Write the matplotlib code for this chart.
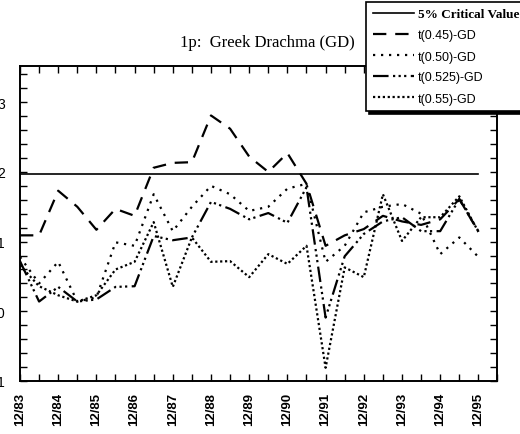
import matplotlib
matplotlib.use("Agg")
import matplotlib.pyplot as plt
from matplotlib.ticker import MultipleLocator
import numpy as np

# semiannual observations, 12/83 .. 12/95
year_labels = ['12/83', '12/84', '12/85', '12/86', '12/87', '12/88', '12/89',
               '12/90', '12/91', '12/92', '12/93', '12/94', '12/95']

critical = 1.97

t045 = [1.09, 1.09, 1.73, 1.50, 1.17, 1.47, 1.37, 2.06, 2.13, 2.14, 2.81, 2.62, 2.22,
        2.00, 2.27, 1.83, 0.94, 1.09, 1.18, 1.37, 1.29, 1.24, 1.32, 1.61, 1.14]
t050 = [0.78, 0.40, 0.71, 0.14, 0.20, 0.99, 0.94, 1.68, 1.15, 1.50, 1.80, 1.68, 1.44,
        1.50, 1.76, 1.83, 0.71, 0.94, 1.42, 1.50, 1.54, 1.40, 0.82, 1.06, 0.78]
t0525 = [0.72, 0.14, 0.35, 0.14, 0.17, 0.35, 0.36, 1.08, 1.02, 1.06, 1.57, 1.47, 1.32,
         1.41, 1.27, 1.78, -0.09, 0.79, 1.11, 1.29, 1.35, 1.15, 1.15, 1.61, 1.15]
t055 = [0.66, 0.36, 0.23, 0.14, 0.23, 0.60, 0.71, 1.28, 0.35, 1.06, 0.71, 0.72, 0.49,
        0.82, 0.68, 0.94, -0.81, 0.63, 0.49, 1.68, 1.01, 1.35, 1.35, 1.65, 1.14]

x = np.arange(len(t045))

fig = plt.figure(figsize=(5.2, 4.35), dpi=100)
ax = fig.add_axes([20/520, 1-382/435, 477.5/520, 315/435])

ax.plot(x, [critical]*len(x), color='black', lw=1.2, label='5% Critical Value')
ax.plot(x, t045, color='black', lw=1.6, linestyle=(0, (6, 4)), label='t(0.45)-GD')
ax.plot(x, t050, color='black', lw=1.6, linestyle=(0, (1, 2.6)), label='t(0.50)-GD')
ax.plot(x, t0525, color='black', lw=1.6, linestyle=(0, (7, 2, 1, 1.5, 1, 1.5, 1, 2)),
        label='t(0.525)-GD')
ax.plot(x, t055, color='black', lw=1.6, linestyle=(0, (1, 1.2)), label='t(0.55)-GD')

ax.set_xlim(0, 25)
ax.set_ylim(-1, 3.52)
ax.set_xticks(np.arange(0, 25, 2))
ax.set_xticklabels(year_labels, rotation=90, fontsize=9.5, fontweight='bold',
                   family='Liberation Sans')
ax.xaxis.set_minor_locator(MultipleLocator(1))
ax.set_yticks([-1, 0, 1, 2, 3])
ax.set_yticklabels(['−1', '0', '1', '2', '3'], fontsize=10, family='Liberation Sans')
ax.yaxis.set_minor_locator(MultipleLocator(0.2))
ax.tick_params(which='both', direction='in', length=5, width=1, top=True, right=True)
ax.tick_params(axis='x', pad=8)
ax.tick_params(axis='y', pad=11)
for s in ax.spines.values():
    s.set_linewidth(1.4)

fig.text(267/520, 1-43/435, '1p:  Greek Drachma (GD)', ha='center', va='center',
         fontsize=12, family='Liberation Serif')

leg = ax.legend(loc='upper left', bbox_to_anchor=(360/520, 1+3/435),
                bbox_transform=fig.transFigure, fontsize=9, handlelength=3.3,
                handletextpad=0.35, labelspacing=0.72, borderpad=0.5, fancybox=False,
                framealpha=1, edgecolor='black',
                shadow={'color': 'black', 'alpha': 1})
leg.get_frame().set_linewidth(1.2)
texts = leg.get_texts()
texts[0].set_family('Liberation Serif')
texts[0].set_fontweight('bold')
texts[0].set_fontsize(9.5)
for t in texts[1:]:
    t.set_family('Liberation Sans')

fig.savefig('out.png', dpi=100)
